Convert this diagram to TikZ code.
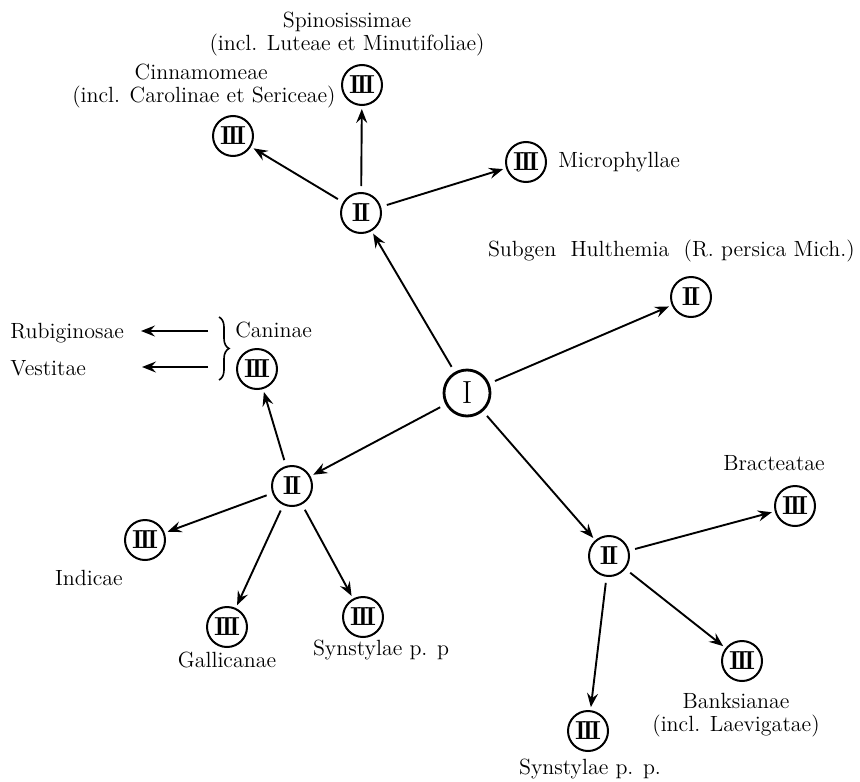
\documentclass[tikz,border=0pt]{standalone}
\usetikzlibrary{arrows.meta,decorations.pathreplacing}
\newcommand\romtwo{I\kern-1.7pt I}
\newcommand\romthree{I\kern-1.7pt I\kern-1.7pt I}
\begin{document}
\begin{tikzpicture}[x=0.5pt,y=-0.5pt,
  rn/.style={circle,draw,line width=1pt,minimum size=20pt,inner sep=0pt,font=\fontsize{13}{13}\selectfont\bfseries},
  root/.style={circle,draw,line width=1.4pt,minimum size=23pt,inner sep=0pt,font=\fontsize{16}{16}\selectfont},
  lab/.style={inner sep=0pt,font=\fontsize{11}{11.5}\selectfont,align=center},
  arr/.style={line width=0.95pt,-{Stealth[length=7pt,width=5.5pt,inset=2.5pt]},shorten <=3pt,shorten >=1.5pt},
  bracestyle/.style={line width=0.8pt,decorate,decoration={brace,amplitude=5pt}}
]
\useasboundingbox (0,0) rectangle (860,781);
% nodes
\node[root] (I) at (467,393) {I};
\node[rn] (IIt) at (361,213) {\romtwo};
\node[rn] (IIIcin) at (233,136) {\romthree};
\node[rn] (IIIspin) at (362,85) {\romthree};
\node[rn] (IIImic) at (526,162) {\romthree};
\node[rn] (IIhul) at (691,297) {\romtwo};
\node[rn] (IIIcan) at (257,369) {\romthree};
\node[rn] (IIl) at (292,486) {\romtwo};
\node[rn] (IIIind) at (145,540) {\romthree};
\node[rn] (IIIgal) at (227,627) {\romthree};
\node[rn] (IIIsynL) at (363,617) {\romthree};
\node[rn] (IIr) at (609,556) {\romtwo};
\node[rn] (IIIbra) at (795,506) {\romthree};
\node[rn] (IIIban) at (742,661) {\romthree};
\node[rn] (IIIsynR) at (588,731) {\romthree};
% labels
\node[lab] (tspin) at (347,34) {Spinosissimae\\(incl. Luteae et Minutifoliae)};
\node[lab,align=right,anchor=east] (tcin) at (336,86) {Cinnamomeae\hspace*{34pt}\\(incl. Carolinae et Sericeae)};
\node[lab,anchor=west] (tmic) at (558,162) {Microphyllae};
\node[lab,anchor=east] (thul) at (855,251) {Subgen\ \ Hulthemia\ \ (R.\ persica\ Mich.)};
\node[lab,anchor=west] (trub) at (10,333) {Rubiginosae};
\node[lab,anchor=west] (tves) at (10,368) {Vestitae};
\node[lab,anchor=west] (tcan) at (235,330) {Caninae};
\node[lab] (tind) at (89,578) {Indicae};
\node[lab] (tgal) at (227,660) {Gallicanae};
\node[lab] (tsynL) at (381,650) {Synstylae p. p};
\node[lab] (tbra) at (774,463) {Bracteatae};
\node[lab] (tban) at (736,715) {Banksianae\\(incl. Laevigatae)};
\node[lab] (tsynR) at (590,769) {Synstylae p. p.};
% brace
\draw[bracestyle] (219,317) -- (219,380);
\coordinate (b1) at (208,331);
\coordinate (b2) at (208,367);
\coordinate (r1) at (141,331);
\coordinate (r2) at (142,367);
\draw[arr,shorten <=0pt,shorten >=0pt] (b1) -- (r1);
\draw[arr,shorten <=0pt,shorten >=0pt] (b2) -- (r2);
% connectors
\draw[arr] (I) -- (IIt);
\draw[arr] (I) -- (IIhul);
\draw[arr] (I) -- (IIl);
\draw[arr] (I) -- (IIr);
\draw[arr] (IIt) -- (IIIcin);
\draw[arr] (IIt) -- (IIIspin);
\draw[arr] (IIt) -- (IIImic);
\draw[arr] (IIl) -- (IIIcan);
\draw[arr] (IIl) -- (IIIind);
\draw[arr] (IIl) -- (IIIgal);
\draw[arr] (IIl) -- (IIIsynL);
\draw[arr] (IIr) -- (IIIbra);
\draw[arr] (IIr) -- (IIIban);
\draw[arr] (IIr) -- (IIIsynR);
\end{tikzpicture}
\end{document}
